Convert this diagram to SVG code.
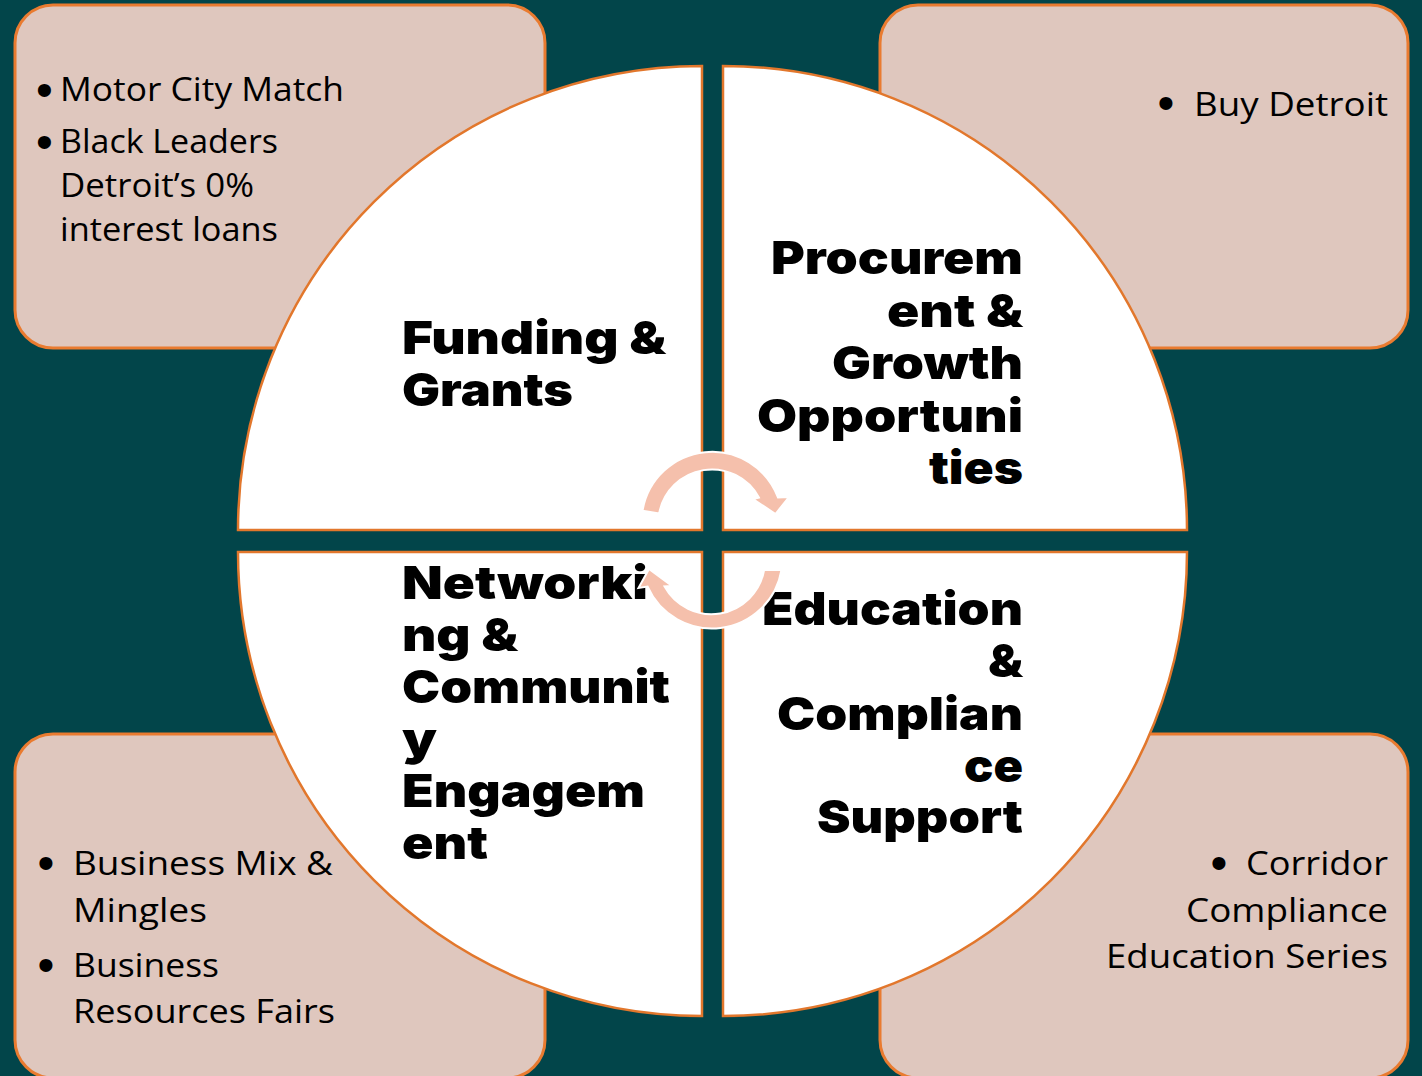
<svg xmlns="http://www.w3.org/2000/svg" width="1422" height="1076" viewBox="0 0 1422 1076">
  <style>
    .bg { fill: #02454A; }
    .card { fill: #DFC7BE; stroke: #E97B30; stroke-width: 3; }
    .quad { fill: #FFFFFF; stroke: #E2772C; stroke-width: 2.5; }
    .item { font-family: "Open Sans", "Noto Sans", sans-serif; font-size: 33px; fill: #000000; }
    .bullet { font-family: "Liberation Sans", Arial, sans-serif; font-size: 48px; fill: #000000; text-anchor: middle; }
    .title { font-family: "Inter", "Lato", "Roboto", sans-serif; font-weight: 900; font-size: 46px; fill: #000000; }
    .end { text-anchor: end; }
    .cycle { fill: #F5C0AC; stroke: #FFFFFF; stroke-width: 2; stroke-linejoin: miter; }
  </style>

  <rect class="bg" x="0" y="0" width="1422" height="1076"/>

  <!-- Program lists in the four corners -->
  <g id="card-funding">
    <rect class="card" x="15" y="5" width="530" height="343" rx="38" ry="38"/>
    <text class="bullet" x="44.5" y="106">•</text>
    <text class="bullet" x="44.5" y="158">•</text>
    <text class="item" x="60" y="101" textLength="284" lengthAdjust="spacingAndGlyphs">Motor City Match</text>
    <text class="item" x="60" y="153" textLength="218" lengthAdjust="spacingAndGlyphs">Black Leaders</text>
    <text class="item" x="60" y="197" textLength="194" lengthAdjust="spacingAndGlyphs">Detroit’s 0%</text>
    <text class="item" x="60" y="241" textLength="218" lengthAdjust="spacingAndGlyphs">interest loans</text>
  </g>

  <g id="card-procurement">
    <rect class="card" x="880" y="5" width="528" height="343" rx="38" ry="38"/>
    <text class="bullet" x="1166" y="119">•</text>
    <text class="item end" x="1388" y="116" textLength="194" lengthAdjust="spacingAndGlyphs">Buy Detroit</text>
  </g>

  <g id="card-networking">
    <rect class="card" x="15" y="734" width="530" height="344" rx="38" ry="38"/>
    <text class="bullet" x="46" y="879">•</text>
    <text class="bullet" x="46" y="981">•</text>
    <text class="item" x="73" y="875" textLength="260" lengthAdjust="spacingAndGlyphs">Business Mix &amp;</text>
    <text class="item" x="73" y="922" textLength="134" lengthAdjust="spacingAndGlyphs">Mingles</text>
    <text class="item" x="73" y="977" textLength="146" lengthAdjust="spacingAndGlyphs">Business</text>
    <text class="item" x="73" y="1023" textLength="262" lengthAdjust="spacingAndGlyphs">Resources Fairs</text>
  </g>

  <g id="card-education">
    <rect class="card" x="880" y="734" width="528" height="344" rx="38" ry="38"/>
    <text class="bullet" x="1219" y="879">•</text>
    <text class="item end" x="1388" y="875" textLength="142" lengthAdjust="spacingAndGlyphs">Corridor</text>
    <text class="item end" x="1388" y="922" textLength="202" lengthAdjust="spacingAndGlyphs">Compliance</text>
    <text class="item end" x="1388" y="968" textLength="282" lengthAdjust="spacingAndGlyphs">Education Series</text>
  </g>

  <!-- Four quarter-circle segments, radius 464 -->
  <g id="segment-funding">
    <path class="quad" d="M702 530 L238 530 A464 464 0 0 1 702 66 Z"/>
    <text class="title" x="402" y="354" textLength="264" lengthAdjust="spacingAndGlyphs">Funding &amp;</text>
    <text class="title" x="402" y="406" textLength="171" lengthAdjust="spacingAndGlyphs">Grants</text>
  </g>

  <g id="segment-procurement">
    <path class="quad" d="M723 530 L723 66 A464 464 0 0 1 1187 530 Z"/>
    <text class="title end" x="1023" y="274" textLength="252" lengthAdjust="spacingAndGlyphs">Procurem</text>
    <text class="title end" x="1023" y="326.5" textLength="136" lengthAdjust="spacingAndGlyphs">ent &amp;</text>
    <text class="title end" x="1023" y="379" textLength="191" lengthAdjust="spacingAndGlyphs">Growth</text>
    <text class="title end" x="1023" y="431.5" textLength="266" lengthAdjust="spacingAndGlyphs">Opportuni</text>
    <text class="title end" x="1023" y="484" textLength="94" lengthAdjust="spacingAndGlyphs">ties</text>
  </g>

  <g id="segment-networking">
    <path class="quad" d="M702 552 L702 1016 A464 464 0 0 1 238 552 Z"/>
    <text class="title" x="402" y="599" textLength="246" lengthAdjust="spacingAndGlyphs">Networki</text>
    <text class="title" x="402" y="651" textLength="116" lengthAdjust="spacingAndGlyphs">ng &amp;</text>
    <text class="title" x="402" y="703" textLength="268" lengthAdjust="spacingAndGlyphs">Communit</text>
    <text class="title" x="402" y="755" textLength="35" lengthAdjust="spacingAndGlyphs">y</text>
    <text class="title" x="402" y="807" textLength="243" lengthAdjust="spacingAndGlyphs">Engagem</text>
    <text class="title" x="402" y="859" textLength="86" lengthAdjust="spacingAndGlyphs">ent</text>
  </g>

  <g id="segment-education">
    <path class="quad" d="M723 552 L1187 552 A464 464 0 0 1 723 1016 Z"/>
    <text class="title end" x="1023" y="625" textLength="261" lengthAdjust="spacingAndGlyphs">Education</text>
    <text class="title end" x="1023" y="677" textLength="35" lengthAdjust="spacingAndGlyphs">&amp;</text>
    <text class="title end" x="1023" y="729.5" textLength="246" lengthAdjust="spacingAndGlyphs">Complian</text>
    <text class="title end" x="1023" y="781.5" textLength="59" lengthAdjust="spacingAndGlyphs">ce</text>
    <text class="title end" x="1023" y="833" textLength="206" lengthAdjust="spacingAndGlyphs">Support</text>
  </g>

  <!-- Cycle arrows around the centre -->
  <g id="connectors">
    <path class="cycle" d="M642.5 510.8 A70.5 70.5 0 0 1 778 497.5 L789 497 L775.5 514 L753 499 L758.9 497.5 A53.5 53.5 0 0 0 659.2 513.4 Z"/>
    <path class="cycle" d="M781.5 570 A70.5 70.5 0 0 1 647.5 586.5 L638.5 588 L649 569 L672 586 L664.6 586.5 A53.5 53.5 0 0 0 764.1 570 Z"/>
  </g>
</svg>
